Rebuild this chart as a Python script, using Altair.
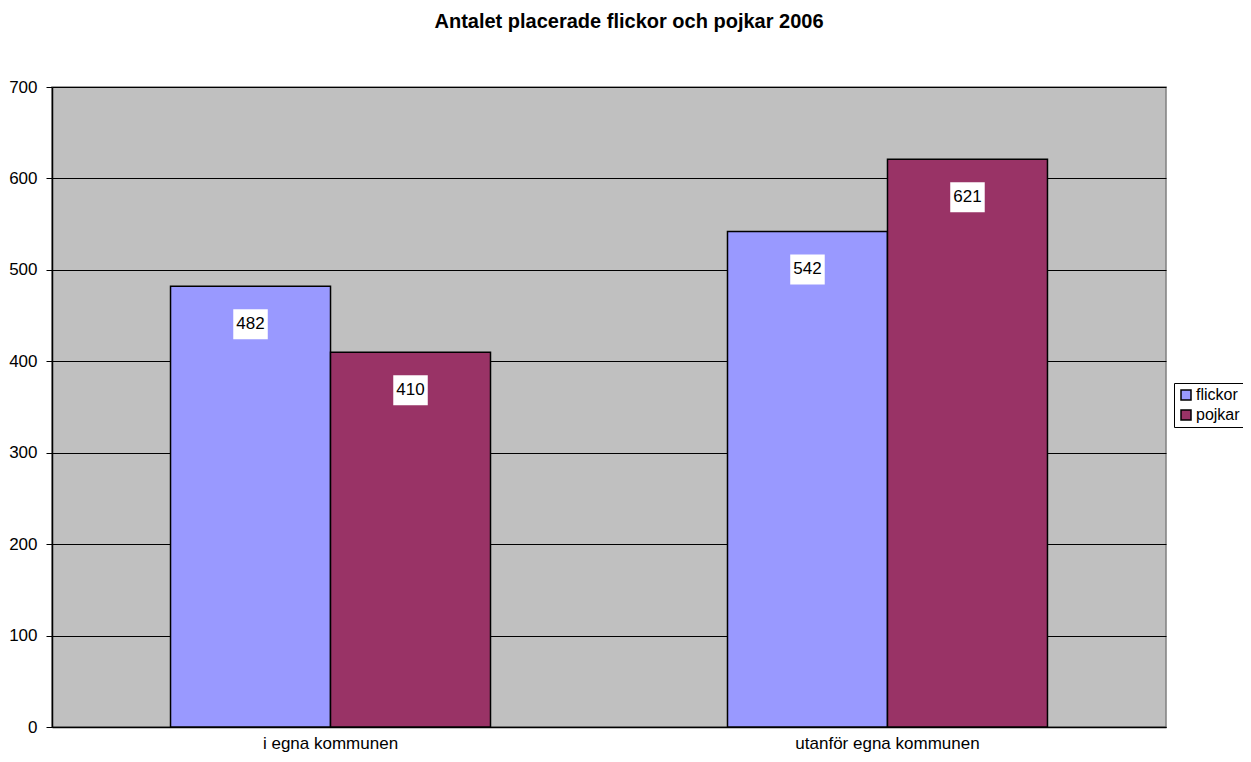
import altair as alt
import pandas as pd

categories = ["i egna kommunen", "utanför egna kommunen"]
series = ["flickor", "pojkar"]
flickor = [482, 542]
pojkar = [410, 621]
colors = ["#9999FF", "#993366"]

rows = []
for i, c in enumerate(categories):
    rows.append({"kategori": c, "kön": "flickor", "antal": flickor[i]})
    rows.append({"kategori": c, "kön": "pojkar", "antal": pojkar[i]})
df = pd.DataFrame(rows)

FONT = "Liberation Sans"

x = alt.X("kategori:N", sort=categories, title=None,
          scale=alt.Scale(paddingInner=0.4255, paddingOuter=0.2128),
          axis=alt.Axis(labelAngle=0, labelFontSize=17, labelFont=FONT, labelColor="black",
                        labelLimit=0, ticks=False, domainColor="black", domainWidth=1.5,
                        labelPadding=8))
xo = alt.XOffset("kön:N", sort=series, scale=alt.Scale(paddingInner=0, paddingOuter=0))
y = alt.Y("antal:Q", title=None,
          scale=alt.Scale(domain=[0, 700]),
          axis=alt.Axis(values=list(range(0, 701, 100)), labelFontSize=17, labelFont=FONT,
                        labelColor="black", tickColor="black", tickSize=6, labelPadding=9,
                        domainColor="black", domainWidth=1.5, gridColor="black", gridWidth=1,
                        grid=True))

bars = alt.Chart(df).mark_bar(stroke="black", strokeWidth=1.5).encode(
    x=x, xOffset=xo, y=y,
    color=alt.Color("kön:N", sort=series, scale=alt.Scale(domain=series, range=colors),
                    legend=alt.Legend(title=None, orient="none", legendX=1122, legendY=296,
                                      symbolType="square", symbolSize=100, symbolStrokeColor="black",
                                      symbolStrokeWidth=1.5, labelFontSize=16, labelFont=FONT,
                                      labelColor="black", strokeColor="black", fillColor="white",
                                      padding=4, rowPadding=4, labelOffset=2, symbolOpacity=1,
                                      labelLimit=0)),
)

boxes = alt.Chart(df).mark_point(
    shape="M-1.15,-1L1.15,-1L1.15,1L-1.15,1Z", size=900, filled=True, fill="white",
    opacity=1, strokeWidth=0, yOffset=38
).encode(x=x, xOffset=xo, y=y)

labels = alt.Chart(df).mark_text(
    fontSize=17, font=FONT, color="black", baseline="middle", align="center", dy=38
).encode(x=x, xOffset=xo, y=y, text="antal:Q")

chart = alt.layer(bars, boxes, labels).properties(
    width=1114, height=640,
    autosize=alt.AutoSizeParams(type="none"),
    padding={"left": 44, "top": 79, "right": 77, "bottom": 27},
    background="white",
    title=alt.Title("Antalet placerade flickor och pojkar 2006", fontSize=20, font=FONT,
                    fontWeight="bold", color="black", anchor="middle", dx=20, offset=46),
).configure_view(fill="#C0C0C0", stroke="#808080", strokeWidth=1.5)

chart.save("out.html", embed_options={"renderer": "svg", "actions": False})
